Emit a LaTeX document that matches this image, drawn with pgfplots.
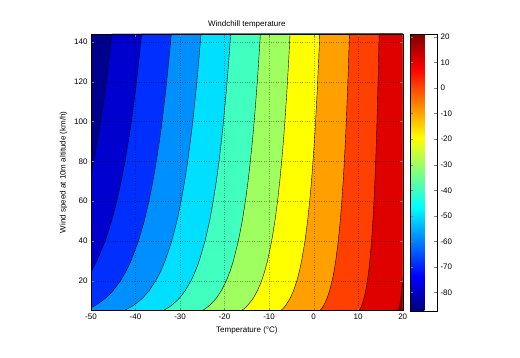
\documentclass[border=0pt]{standalone}
\usepackage{pgfplots}
\usepackage{pgfplotstable}
\pgfplotsset{compat=1.18}
\usepackage{fontspec}
\setmainfont{Liberation Sans}

\definecolor{c1}{rgb}{0,0,0.5625}
\definecolor{c2}{rgb}{0,0,0.8125}
\definecolor{c3}{rgb}{0,0.1875,1}
\definecolor{c4}{rgb}{0,0.5625,1}
\definecolor{c5}{rgb}{0,0.875,1}
\definecolor{c6}{rgb}{0.25,1,0.75}
\definecolor{c7}{rgb}{0.625,1,0.375}
\definecolor{c8}{rgb}{1,1,0}
\definecolor{c9}{rgb}{1,0.625,0}
\definecolor{c10}{rgb}{1,0.25,0}
\definecolor{c11}{rgb}{0.875,0,0}
\definecolor{c12}{rgb}{0.5,0,0}

% Contour boundaries: temperature (x) at which the windchill equals each level, per wind speed V
\pgfplotstableread{
V m80 m70 m60 m50 m40 m30 m20 m10 z0 p10 p20
5 -69.118 -60.303 -51.488 -42.674 -33.859 -25.044 -16.229 -7.414 1.401 10.216 19.031
6 -67.825 -59.127 -50.428 -41.730 -33.032 -24.334 -15.635 -6.937 1.761 10.460 19.158
7 -66.731 -58.132 -49.532 -40.932 -32.333 -23.733 -15.133 -6.533 2.067 10.666 19.266
8 -65.782 -57.268 -48.754 -40.240 -31.725 -23.211 -14.697 -6.183 2.331 10.846 19.360
10 -64.193 -55.822 -47.451 -39.080 -30.709 -22.338 -13.967 -5.596 2.775 11.146 19.516
12 -62.892 -54.639 -46.385 -38.131 -29.877 -21.624 -13.370 -5.116 3.137 11.391 19.645
15 -61.299 -53.189 -45.079 -36.969 -28.859 -20.749 -12.639 -4.529 3.582 11.692 19.802
20 -59.245 -51.320 -43.395 -35.470 -27.545 -19.620 -11.695 -3.770 4.155 12.079 20.004
25 -57.653 -49.871 -42.090 -34.309 -26.527 -18.746 -10.964 -3.183 4.599 12.380 20.161
30 -56.353 -48.689 -41.025 -33.361 -25.696 -18.032 -10.368 -2.703 4.961 12.625 20.290
40 -54.306 -46.827 -39.347 -31.867 -24.387 -16.908 -9.428 -1.948 5.532 13.012 20.491
50 -52.723 -45.386 -38.049 -30.712 -23.375 -16.038 -8.701 -1.364 5.974 13.311 20.648
60 -51.433 -44.212 -36.992 -29.771 -22.550 -15.329 -8.108 -0.888 6.333 13.554 20.775
70 -50.345 -43.222 -36.100 -28.977 -21.854 -14.731 -7.609 -0.486 6.637 13.759 20.882
80 -49.405 -42.367 -35.329 -28.291 -21.253 -14.215 -7.177 -0.139 6.899 13.937 20.975
90 -48.579 -41.615 -34.652 -27.688 -20.725 -13.761 -6.798 0.166 7.129 14.093 21.056
100 -47.841 -40.944 -34.047 -27.150 -20.253 -13.356 -6.459 0.438 7.335 14.232 21.129
115 -46.865 -40.056 -33.247 -26.438 -19.629 -12.820 -6.011 0.798 7.607 14.416 21.225
130 -46.012 -39.280 -32.548 -25.815 -19.083 -12.351 -5.619 1.113 7.845 14.577 21.309
144 -45.301 -38.633 -31.965 -25.297 -18.629 -11.961 -5.293 1.375 8.043 14.711 21.380
144 25 25 25 25 25 25 25 25 25 25 25
5 25 25 25 25 25 25 25 25 25 25 25
}\wc

\begin{document}
\begin{tikzpicture}[font=\fontsize{8}{9.6}\selectfont]
\begin{axis}[
  name=main,
  scale only axis,
  width=311.7pt, height=276.7pt,
  xmin=-50, xmax=20, ymin=5, ymax=144,
  xtick={-50,-40,...,20}, ytick={20,40,...,140},
  axis background/.style={fill=c1},
  axis on top,
  grid=major,
  grid style={dotted, black, line width=0.25pt, opacity=0.35},
  major tick length=3pt,
  title={Windchill temperature},
  title style={yshift=-4pt},
  xlabel={Temperature (°C)},
  ylabel={Wind speed at 10m altitude (km/h)},
  /pgf/number format/assume math mode=true,
  tick label style={font=\fontsize{8}{9.6}\selectfont},
  point meta min=-87.1, point meta max=21.1,
  colormap/jet,
  colorbar,
  colorbar style={
    at={(parent axis.north east)}, anchor=north west, xshift=-1.2pt,
    width=27pt,
    ytick={-80,-70,...,20},
    major tick length=3pt,
    /pgf/number format/assume math mode=true,
    yticklabel style={font=\fontsize{8}{9.6}\selectfont},
  },
]
\addplot[fill=c2, draw=black, line width=0.4pt, mark=none] table[x=m80, y=V]{\wc} -- cycle;
\addplot[fill=c3, draw=black, line width=0.4pt, mark=none] table[x=m70, y=V]{\wc} -- cycle;
\addplot[fill=c4, draw=black, line width=0.4pt, mark=none] table[x=m60, y=V]{\wc} -- cycle;
\addplot[fill=c5, draw=black, line width=0.4pt, mark=none] table[x=m50, y=V]{\wc} -- cycle;
\addplot[fill=c6, draw=black, line width=0.4pt, mark=none] table[x=m40, y=V]{\wc} -- cycle;
\addplot[fill=c7, draw=black, line width=0.4pt, mark=none] table[x=m30, y=V]{\wc} -- cycle;
\addplot[fill=c8, draw=black, line width=0.4pt, mark=none] table[x=m20, y=V]{\wc} -- cycle;
\addplot[fill=c9, draw=black, line width=0.4pt, mark=none] table[x=m10, y=V]{\wc} -- cycle;
\addplot[fill=c10, draw=black, line width=0.4pt, mark=none] table[x=z0, y=V]{\wc} -- cycle;
\addplot[fill=c11, draw=black, line width=0.4pt, mark=none] table[x=p10, y=V]{\wc} -- cycle;
\addplot[fill=c12, draw=black, line width=0.4pt, mark=none] table[x=p20, y=V]{\wc} -- cycle;
\end{axis}
\path ([shift={(-91pt,-47.3pt)}]main.south west) rectangle ([shift={(429pt,310.7pt)}]main.south west);
\end{tikzpicture}
\end{document}
